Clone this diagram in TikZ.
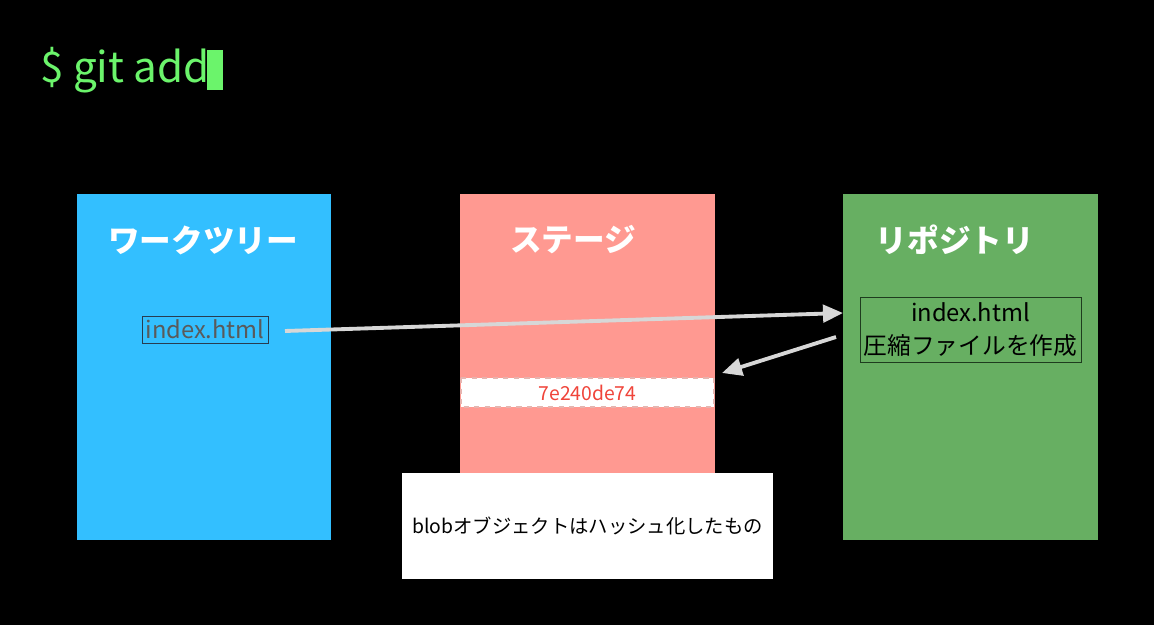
\documentclass[tikz,border=0pt]{standalone}
\usepackage{fontspec}
\setmainfont{Noto Sans CJK JP}
\usetikzlibrary{arrows.meta}
\definecolor{termgreen}{HTML}{6BF46B}
\definecolor{workblue}{HTML}{33BFFF}
\definecolor{stagepink}{HTML}{FF9991}
\definecolor{repogreen}{HTML}{67AF62}
\definecolor{hashred}{HTML}{F0443A}
\tikzset{
    title/.style={text=white, font=\bfseries\fontsize{18}{22}\selectfont},
    flow/.style={draw={rgb,255:red,215;green,215;blue,215}, line width=2.2pt, -{Triangle[length=4mm,width=3.5mm]}},
}
\begin{document}
\begin{tikzpicture}[x=0.02cm, y=-0.02cm]
    \fill[black] (0,0) rectangle (1154,625);
    \useasboundingbox (0,0) rectangle (1154,625);

    \node[text=termgreen, font=\fontsize{24}{28}\selectfont, anchor=west, inner sep=0pt] (cmd) at (40,70) {\$ git add};
    \fill[termgreen] (207,50) rectangle (223,90);

    % three areas
    \fill[workblue] (77,194) rectangle (331,540);
    \fill[stagepink] (460,194) rectangle (715,540);
    \fill[repogreen] (843,194) rectangle (1098,540);
    \node[title] (work) at (203,240) {ワークツリー};
    \node[title] (stage) at (573,240) {ステージ};
    \node[title] (repo) at (955,240) {リポジトリ};

    \draw[draw={rgb,255:red,40;green,60;blue,80}] (142,316) rectangle (268,343);
    \node[text={rgb,255:red,90;green,90;blue,90}, font=\fontsize{13.5}{16}\selectfont, inner sep=0pt] (file) at (205,329.5) {index.html};
    \draw[draw={rgb,255:red,30;green,60;blue,30}] (860,297) rectangle (1081,362);
    \node[text=black, font=\fontsize{13.5}{19}\selectfont, align=center, inner sep=0pt] (zip) at (970.5,329.5) {index.html\\圧縮ファイルを作成};
    \filldraw[fill=white, draw={rgb,255:red,230;green,180;blue,175}, dashed, line width=1pt] (461,378) rectangle (714,407);
    \node[text=hashred, font=\fontsize{11}{13}\selectfont, inner sep=0pt] (blob) at (587.5,392.5) {7e240de74};

    \fill[white] (402,473) rectangle (773,579);
    \node[text=black, font=\fontsize{11}{13}\selectfont, inner sep=0pt] (note) at (587.5,526) {blobオブジェクトはハッシュ化したもの};

    \coordinate (s1) at (285,331);
    \coordinate (e1) at (843,313);
    \coordinate (s2) at (836,337);
    \coordinate (e2) at (722,373);
    \draw[flow] (s1) -- (e1);
    \draw[flow] (s2) -- (e2);
\end{tikzpicture}
\end{document}
